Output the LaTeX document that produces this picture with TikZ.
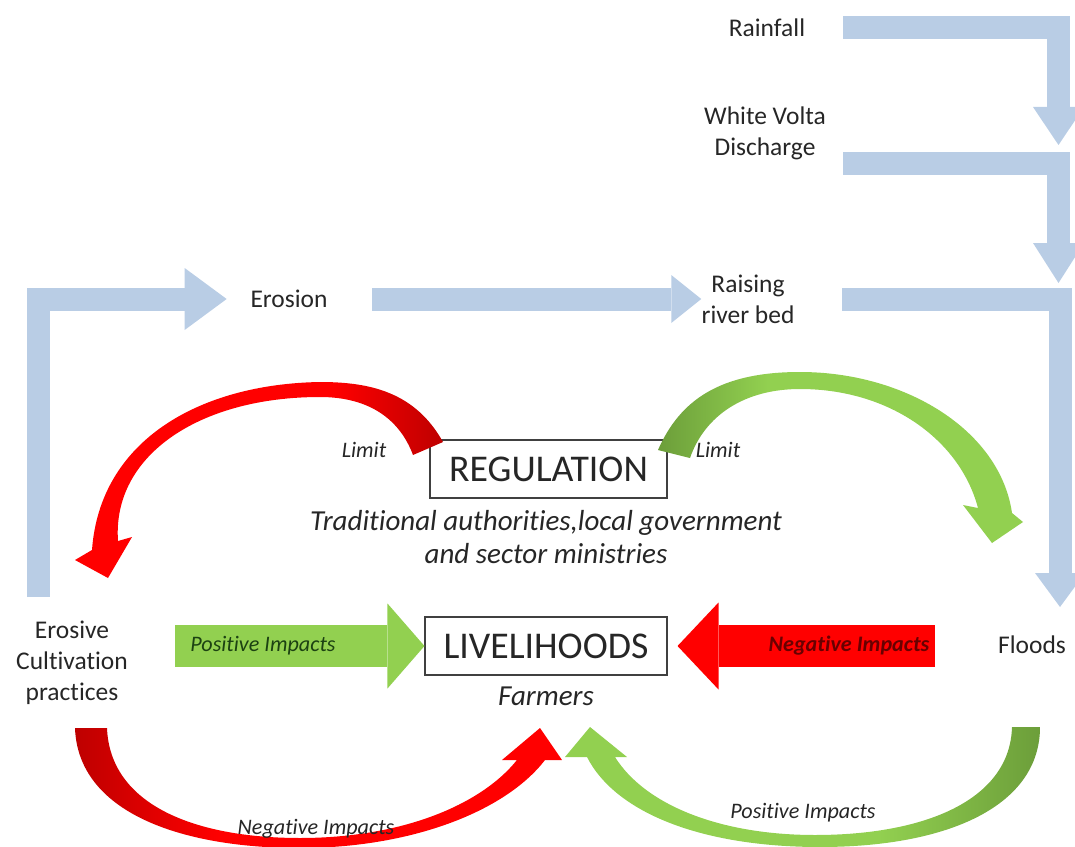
\documentclass[tikz,border=0pt]{standalone}
\usepackage{fontspec}
\setmainfont{Carlito}[Ligatures=NoCommon, RawFeature=-calt]
\usetikzlibrary{arrows.meta,positioning}
\definecolor{flowblue}{RGB}{185,205,229}
\definecolor{posgreen}{RGB}{146,208,80}
\definecolor{posgreendark}{RGB}{108,158,58}
\definecolor{negred}{RGB}{255,0,0}
\definecolor{negreddark}{RGB}{190,0,0}
\definecolor{labelgreen}{RGB}{28,66,18}
\definecolor{labelred}{RGB}{105,0,0}
% shadings for the curved arrows, dark at the start of each arrow
\pgfdeclarehorizontalshading{redtop}{100bp}{color(0bp)=(negred); color(60bp)=(negred);
  color(75bp)=(negreddark); color(100bp)=(negreddark)}
\pgfdeclarehorizontalshading{redbottom}{100bp}{color(0bp)=(negreddark); color(25bp)=(negreddark);
  color(40bp)=(negred); color(100bp)=(negred)}
\pgfdeclarehorizontalshading{greentop}{100bp}{color(0bp)=(posgreendark); color(25bp)=(posgreendark);
  color(40bp)=(posgreen); color(100bp)=(posgreen)}
\pgfdeclarehorizontalshading{greenbottom}{100bp}{color(0bp)=(posgreen); color(58bp)=(posgreen);
  color(75bp)=(posgreendark); color(100bp)=(posgreendark)}
\tikzset{
    plain/.style={
           inner sep=0pt,
           align=center,
           text=black!85,
           font=\fontsize{14.5}{17.5}\selectfont,
           },
    box/.style={
           rectangle,
           draw=black!75, line width=0.6pt,
           fill=white,
           minimum width=48mm,
           minimum height=11.6mm,
           inner sep=0pt,
           text=black!85,
           font=\fontsize{21.5}{24}\selectfont,
           },
    note/.style={
           inner sep=0pt,
           align=center,
           text=black!85,
           font=\fontsize{16.5}{18.3}\selectfont\itshape,
           },
    small/.style={
           inner sep=0pt,
           text=black!85,
           font=\fontsize{12.6}{15}\selectfont\itshape,
           },
    flow/.style={draw=flowblue, line width=4.6mm},
    bigflow/.style={line width=8.4mm},
}

\begin{document}
\begin{tikzpicture}[x=0.2mm, y=-0.2mm]
  \useasboundingbox (0,0) rectangle (1075,847);
  \clip (0,0) rectangle (1075,847);

  % the places
  \node[plain] (rain) at (767,28) {Rainfall};
  \node[plain] (volta) at (765,133) {White Volta\\Discharge};
  \node[plain] (raising) at (748,299) {Raising\\river bed};
  \node[plain] (erosion) at (289,299) {Erosion};
  \node[plain] (erosive) at (72,663) {Erosive\\Cultivation\\practices};
  \node[plain] (floods) at (1032,645) {Floods};
  \node[box, minimum width=47.4mm] (regul) at (548.5,469) {REGULATION};
  \node[note] (actors) at (546,537)
    {Traditional authorities,local government\\and sector ministries};
  \node[box, minimum width=48.4mm] (liveli) at (546,646) {LIVELIHOODS};
  \node[note, below=2.2mm of liveli] (farmers) {Farmers};

  % free ends of the blue flows
  \coordinate (rainend) at (1058.5,145);
  \coordinate (voltastart) at (843,163.5);
  \coordinate (voltaend) at (1058.5,283);
  \coordinate (floodend) at (1060,607);
  \coordinate (erosivetop) at (38.5,597);
  \coordinate (posstart) at (175,646);
  \coordinate (negstart) at (935,646);

  % blue flows
  \draw[flow, shorten <=7.5mm,
    -{Triangle[width=10.2mm,length=7.6mm,line width=0pt]}]
    (rain.east) -| (rainend);
  \draw[flow,
    -{Triangle[width=10.2mm,length=8mm,line width=0pt]}]
    (voltastart) -| (voltaend);
  \draw[flow, shorten <=9.5mm,
    -{Triangle[width=10mm,length=6.8mm,line width=0pt]}]
    (raising.east) -| (floodend);
  \draw[flow, shorten <=8.9mm,
    -{Triangle[width=9.6mm,length=6mm,line width=0pt]}]
    (erosion.east) -- (raising.west);
  \draw[flow, shorten >=4.7mm,
    -{Triangle[width=12.4mm,length=8.4mm,line width=0pt]}]
    (erosivetop) |- (erosion.west);

  % straight impacts
  \draw[bigflow, draw=posgreen,
    -{Triangle[width=17mm,length=7.4mm,line width=0pt]}]
    (posstart) -- (liveli.west);
  \draw[bigflow, draw=negred, shorten >=2mm,
    -{Triangle[width=17.4mm,length=8.2mm,line width=0pt]}]
    (negstart) -- (liveli.east);

  % curved arrows
  \shade[shading=redtop]
    (443,442) .. controls (415,392) and (370,382) .. (320,382)
    .. controls (200,384) and (100,440) .. (92,550)
    -- (75,560) -- (108,578) -- (132,537) -- (118,541)
    .. controls (112,455) and (200,397) .. (320,397)
    .. controls (370,397) and (400,420) .. (413,455) -- cycle;
  \shade[shading=greentop]
    (658,450) .. controls (680,400) and (720,372) .. (800,372)
    .. controls (905,372) and (1000,430) .. (1012,513)
    -- (1023,522) -- (992,543) -- (963,505) -- (978,508)
    .. controls (960,440) and (890,389) .. (800,389)
    .. controls (745,389) and (705,415) .. (690,458) -- cycle;
  \shade[shading=redbottom]
    (75,728) .. controls (78,812) and (180,848) .. (300,848)
    .. controls (410,848) and (505,812) .. (545,760)
    -- (562,760) -- (540,728) -- (502,760) -- (517,760)
    .. controls (480,806) and (400,838) .. (300,838)
    .. controls (195,838) and (110,805) .. (107,728) -- cycle;
  \shade[shading=greenbottom]
    (1040,727) .. controls (1040,805) and (950,847) .. (820,847)
    .. controls (700,847) and (615,812) .. (587,757)
    -- (565,757) -- (590,727) -- (627,757) -- (615,757)
    .. controls (645,805) and (720,835) .. (815,835)
    .. controls (925,835) and (1010,800) .. (1012,727) -- cycle;

  % labels on the arrows
  \node[small] (limitL) at (364,450) {Limit};
  \node[small] (limitR) at (718,450) {Limit};
  \node[small, text=labelgreen] (posimp) at (263,646) {Positive Impacts};
  \node[small, text=labelred, font=\fontsize{12.6}{15}\selectfont\itshape\bfseries]
    (negimp) at (849,646) {Negative Impacts};
  \node[small] (negbottom) at (316,829) {Negative Impacts};
  \node[small] (posbottom) at (803,813) {Positive Impacts};
\end{tikzpicture}
\end{document}
